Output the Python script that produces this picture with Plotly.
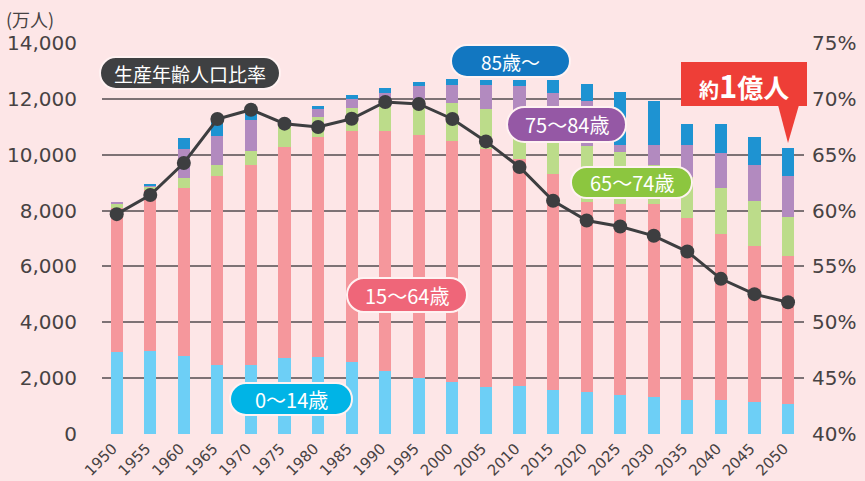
import plotly.graph_objects as go

years = [1950, 1955, 1960, 1965, 1970, 1975, 1980, 1985, 1990, 1995, 2000,
         2005, 2010, 2015, 2020, 2025, 2030, 2035, 2040, 2045, 2050]
year_labels = [str(y) for y in years]

age_0_14 = [2950, 2975, 2807, 2473, 2473, 2735, 2760, 2592, 2258, 2018, 1875,
            1684, 1732, 1589, 1517, 1398, 1326, 1230, 1230, 1159, 1087]
age_15_64 = [5150, 5770, 5985, 6749, 7168, 7551, 7884, 8268, 8602, 8698, 8626,
             8519, 8118, 7736, 6798, 6845, 6917, 6522, 5938, 5590, 5303]
age_65_74 = [118, 85, 383, 419, 502, 800, 717, 813, 1110, 1254, 1337,
             1445, 1673, 1846, 2007, 1864, 1398, 1445, 1649, 1602, 1387]
age_75_84 = [97, 72, 1039, 1039, 1086, 100, 287, 333, 251, 503, 670,
             860, 950, 1050, 1588, 240, 706, 1150, 1254, 1290, 1470]
age_85_up = [0, 60, 395, 540, 460, 32, 108, 133, 180, 143, 215,
             168, 203, 467, 636, 1910, 1588, 763, 1039, 1003, 1003]
working_ratio = [59.68, 61.39, 64.26, 68.20, 69.03, 67.78, 67.48, 68.22, 69.72, 69.54, 68.20,
                 66.19, 63.90, 60.88, 59.11, 58.57, 57.74, 56.33, 53.89, 52.52, 51.80]

left_ticks = [0, 2000, 4000, 6000, 8000, 10000, 12000, 14000]
left_tick_text = ["0", "2,000", "4,000", "6,000", "8,000", "10,000", "12,000", "14,000"]
right_ticks = [40, 45, 50, 55, 60, 65, 70, 75]
right_tick_text = ["40%", "45%", "50%", "55%", "60%", "65%", "70%", "75%"]

W, H = 865, 481
L, R, T, B = 102, 804, 43, 434
PW, PH = R - L, B - T
BG = "#fde6e7"
TXT = "#474243"
NUMFONT = "DejaVu Sans ExtraLight, DejaVu Sans, sans-serif"
JPFONT = "Noto Sans CJK JP, sans-serif"

fig = go.Figure()
series = [
    ("0〜14歳", age_0_14, "#6dcff6"),
    ("15〜64歳", age_15_64, "#f5979c"),
    ("65〜74歳", age_65_74, "#bcdc8a"),
    ("75〜84歳", age_75_84, "#b28abf"),
    ("85歳〜", age_85_up, "#1e93d2"),
]
for name, vals, col in series:
    fig.add_trace(go.Bar(x=years, y=vals, name=name, marker=dict(color=col, line=dict(width=0)),
                         width=1.8, showlegend=False))

fig.add_trace(go.Scatter(x=years, y=working_ratio, yaxis="y2", mode="lines+markers",
                         line=dict(color="#3d3e40", width=3),
                         marker=dict(color="#3d3e40", size=14), showlegend=False))


def px(x):
    return (x - L) / PW


def py(y):
    return (B - y) / PH


def pill_path(x0, y0, x1, y1):
    r = (y1 - y0) / 2.0
    k = 0.5523 * r
    pts = []
    pts.append("M %f,%f" % (px(x0 + r), py(y0)))
    pts.append("L %f,%f" % (px(x1 - r), py(y0)))
    pts.append("C %f,%f %f,%f %f,%f" % (px(x1 - r + k), py(y0), px(x1), py(y0 + r - k), px(x1), py(y0 + r)))
    pts.append("C %f,%f %f,%f %f,%f" % (px(x1), py(y0 + r + k), px(x1 - r + k), py(y1), px(x1 - r), py(y1)))
    pts.append("L %f,%f" % (px(x0 + r), py(y1)))
    pts.append("C %f,%f %f,%f %f,%f" % (px(x0 + r - k), py(y1), px(x0), py(y1 - r + k), px(x0), py(y1 - r)))
    pts.append("C %f,%f %f,%f %f,%f" % (px(x0), py(y0 + r - k), px(x0 + r - k), py(y0), px(x0 + r), py(y0)))
    pts.append("Z")
    return " ".join(pts)


shapes = []
annotations = []
pills = [
    ("生産年齢人口比率", 100, 57, 280, 89, "#3f4042", 19),
    ("85歳〜", 451, 45, 570, 77, "#1277c1", 19),
    ("75〜84歳", 507, 107, 626, 142, "#9558a5", 20),
    ("65〜74歳", 571, 167, 692, 198, "#8cc63f", 20),
    ("15〜64歳", 347, 278, 467, 312, "#ef6679", 20),
    ("0〜14歳", 230, 383, 352, 415, "#00b4e6", 20),
]
for text, x0, y0, x1, y1, col, fs in pills:
    shapes.append(dict(type="path", xref="paper", yref="paper", path=pill_path(x0, y0, x1, y1),
                       fillcolor=col, line=dict(color="#fff2f2", width=2), layer="above"))
    annotations.append(dict(xref="paper", yref="paper", x=px((x0 + x1) / 2), y=py((y0 + y1) / 2),
                            text=text, showarrow=False, xanchor="center", yanchor="middle",
                            font=dict(family=JPFONT, size=fs, color="white")))

# red callout
shapes.append(dict(type="rect", xref="paper", yref="paper", x0=px(681), x1=px(807), y0=py(106), y1=py(62),
                   fillcolor="#ee3e37", line=dict(width=0), layer="above"))
shapes.append(dict(type="path", xref="paper", yref="paper",
                   path="M %f,%f L %f,%f L %f,%f Z" % (px(778), py(105), px(799), py(105), px(788), py(143)),
                   fillcolor="#ee3e37", line=dict(width=0), layer="above"))
annotations.append(dict(xref="paper", yref="paper", x=px(744), y=py(84), showarrow=False,
                        xanchor="center", yanchor="middle",
                        text="<b><span style='font-size:20px'>約</span><span style='font-size:31px'>1</span>億人</b>",
                        font=dict(family=JPFONT, size=26, color="white")))

annotations.append(dict(xref="paper", yref="paper", x=px(4), y=py(19), showarrow=False,
                        xanchor="left", yanchor="middle", text="(万人)",
                        font=dict(family=JPFONT, size=18, color=TXT)))

fig.update_layout(
    width=W, height=H,
    margin=dict(l=L, r=W - R, t=T, b=H - B, pad=0),
    paper_bgcolor=BG, plot_bgcolor=BG,
    barmode="stack", bargap=0,
    shapes=shapes, annotations=annotations,
    xaxis=dict(range=[1947.81, 2052.38], tickvals=years, ticktext=year_labels, tickangle=-45,
               showgrid=False, zeroline=False, showline=False, ticks="", automargin=False,
               ticklabelstandoff=2, ticklabelshift=-4,
               tickfont=dict(family=NUMFONT, size=15, color=TXT), fixedrange=True),
    yaxis=dict(range=[0, 14000], tickvals=left_ticks, ticktext=left_tick_text,
               showgrid=True, gridcolor="#7d7275", gridwidth=2, zeroline=False, showline=False,
               ticks="", ticklabelstandoff=24, automargin=False,
               tickfont=dict(family=NUMFONT, size=20, color=TXT)),
    yaxis2=dict(range=[40, 75], tickvals=right_ticks, ticktext=right_tick_text, overlaying="y",
                side="right", showgrid=False, zeroline=False, showline=False, ticks="",
                ticklabelstandoff=7, automargin=False,
                tickfont=dict(family=NUMFONT, size=20, color=TXT)),
)

fig.write_html("out.html", config={"displayModeBar": False},
               post_script="document.body.style.margin='0';document.body.style.background='%s';" % BG)
